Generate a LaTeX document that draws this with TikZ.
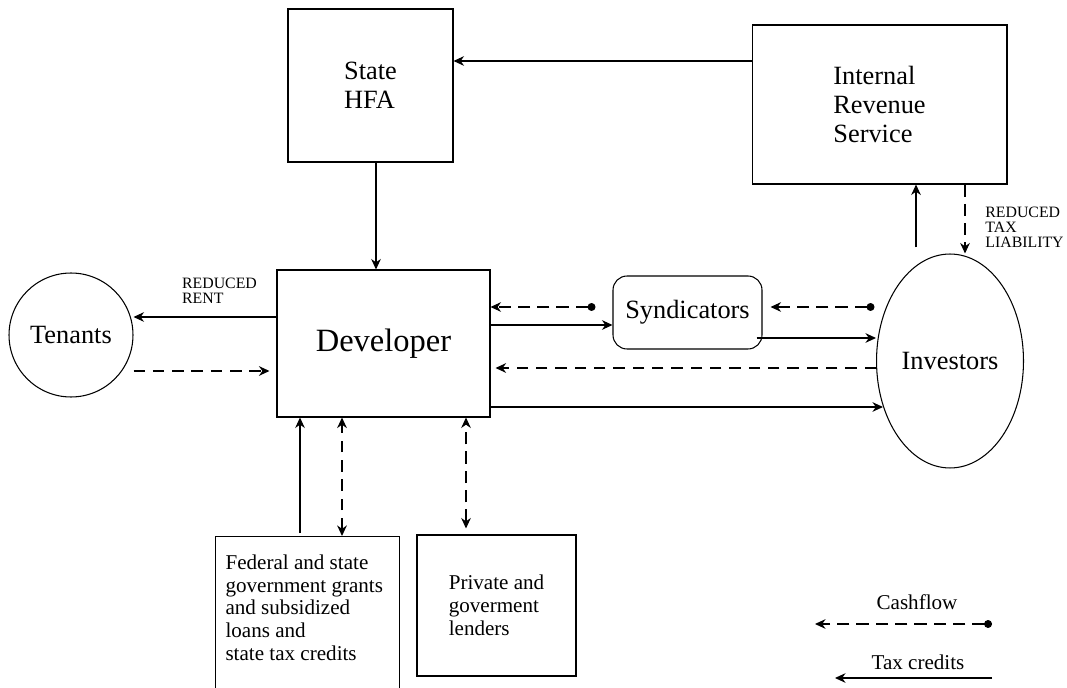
\documentclass[tikz,border=0pt]{standalone}
\usepackage{fontspec}
\setmainfont{Liberation Serif}
\usetikzlibrary{arrows.meta,shapes.geometric,positioning}

\begin{document}
\begin{tikzpicture}[x=0.02cm,y=-0.02cm,line width=0.6pt,
                    >={Stealth[length=6pt,width=5.5pt]},
                    box node/.style={rectangle,draw,inner sep=0pt},
                    big font/.style={font=\fontsize{15}{16.5}\selectfont,align=left},
                    small font/.style={font=\fontsize{12}{13}\selectfont,align=left},
                    label font/.style={font=\fontsize{9}{8.6}\selectfont,align=left,inner sep=0pt},
                    tax/.style={->},
                    cash line/.style={->,dash pattern=on 7pt off 4pt},
                    cash/.style={cash line,{Circle[length=4.5pt]}-{Stealth[length=6pt,width=5.5pt]}},
                    flow/.style={->,line width=1.2pt,dash pattern=on 6.5pt off 4.5pt}]
\path[use as bounding box,clip] (0,0) rectangle (1067,688);

\node[box node,minimum width=3.3cm,minimum height=3.06cm,big font] (hfa) at (370.5,85.5) {State\\HFA};
\node[box node,minimum width=5.1cm,minimum height=3.18cm,big font] (irs) at (879.5,104.5) {Internal\\Revenue\\Service};
\node[box node,minimum width=4.26cm,minimum height=2.94cm,font=\fontsize{18.5}{20}\selectfont] (dev) at (383.5,343.5) {Developer};
\node[box node,rounded corners=0.28cm,minimum width=2.98cm,minimum height=1.46cm,big font] (synd) at (687.5,312.5) {Syndicators};
\node[circle,draw,minimum size=2.48cm,inner sep=0pt,big font] (tenants) at (71,335) {Tenants};
\node[ellipse,draw,minimum width=2.94cm,minimum height=4.28cm,inner sep=0pt,big font] (inv) at (950,361) {Investors};
\node[box node,minimum width=3.68cm,minimum height=3.4cm,anchor=north west] (fed) at (215,536) {};
\node[small font,inner sep=0pt,anchor=north west] (fedtext) at (225,554) {Federal and state\\government grants\\and subsidized\\loans and\\state tax credits};
\node[box node,minimum width=3.18cm,minimum height=2.82cm,small font] (lend) at (496.5,605.5) {Private and\\goverment\\lenders};

\node[label font] (rentlabel) at (219.5,291) {REDUCED\\RENT};
\node[label font] (liablabel) at (1024.5,227.5) {REDUCED\\TAX\\LIABILITY};

% tax credits
\draw[tax] (irs.west |- 0,61) -- (hfa.east |- 0,61);
\draw[tax] (hfa.south -| 376,0) -- (dev.north -| 376,0);
\draw[tax] (dev.west |- 0,317) -- (tenants.east |- 0,317);
\draw[tax] (dev.east |- 0,325) -- (synd.west |- 0,325);
\draw[tax] ([xshift=-0.12cm]synd.east |- 0,338) -- (inv.west |- 0,338);
\draw[tax,shorten >=-0.14cm] (dev.east |- 0,407) -- (inv.west |- 0,407);
\draw[tax,shorten <=0.12cm] (inv.north -| 916,0) -- (irs.south -| 916,0);
\draw[tax,shorten <=0.06cm] (fed.north -| 300,0) -- (dev.south -| 300,0);

% cashflows
\draw[flow,shorten >=0.14cm] (tenants.east |- 0,371) -- (dev.west |- 0,371);
\draw[cash,shorten <=0.34cm] (synd.west |- 0,307) -- (dev.east |- 0,307);
\draw[cash,shorten <=0.03cm,shorten >=0.16cm] (inv.west |- 0,307) -- (synd.east |- 0,307);
\draw[flow,shorten >=0.1cm] (inv.west |- 0,368) -- (dev.east |- 0,368);
\draw[cash line] (irs.south -| 965,0) -- (inv.north -| 965,0);
\draw[flow,<->] (fed.north -| 342,0) -- (dev.south -| 342,0);
\draw[cash line,<->,shorten <=0.12cm] (lend.north -| 466,0) -- (dev.south -| 466,0);

% legend
\coordinate (cashR) at (992,624);
\coordinate (cashL) at (815,624);
\coordinate (taxR) at (992,678);
\coordinate (taxL) at (835,678);
\node[small font] (cashlabel) at (917,602) {Cashflow};
\node[small font] (taxlabel) at (918,662) {Tax credits};
\draw[cash] (cashR) -- (cashL);
\draw[tax] (taxR) -- (taxL);
\end{tikzpicture}
\end{document}
